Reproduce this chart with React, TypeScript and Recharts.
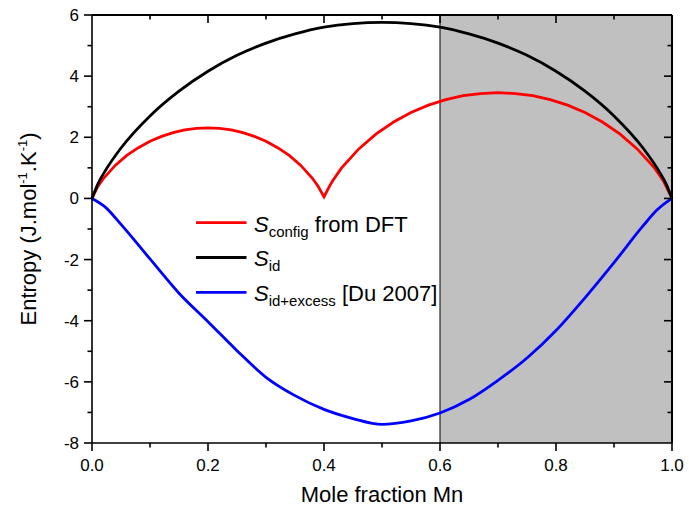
import { LineChart, Line, XAxis, YAxis, ReferenceArea, ReferenceLine } from 'recharts';

// mole fraction Mn (x) and entropy in J/mol/K
const idX = [0, 0.01, 0.025, 0.05, 0.1, 0.15, 0.2, 0.25, 0.3, 0.35, 0.4, 0.45, 0.5, 0.55, 0.6, 0.65, 0.7, 0.75, 0.8, 0.85, 0.9, 0.95, 0.975, 0.99, 1];
const idY = [0, 0.47, 0.97, 1.65, 2.7, 3.51, 4.16, 4.68, 5.08, 5.38, 5.6, 5.72, 5.76, 5.72, 5.6, 5.38, 5.08, 4.68, 4.16, 3.51, 2.7, 1.65, 0.97, 0.47, 0];

const configX = [0, 0.01, 0.02, 0.04, 0.06, 0.08, 0.1, 0.12, 0.14, 0.16, 0.18, 0.2, 0.22, 0.24, 0.26, 0.28, 0.3, 0.32, 0.34, 0.36, 0.38, 0.39, 0.4, 0.41, 0.415, 0.43, 0.46, 0.49, 0.52, 0.55, 0.58, 0.61, 0.64, 0.67, 0.7, 0.73, 0.76, 0.79, 0.82, 0.85, 0.88, 0.91, 0.94, 0.97, 0.985, 1];
const configY = [0, 0.39, 0.66, 1.08, 1.41, 1.66, 1.87, 2.03, 2.15, 2.24, 2.29, 2.31, 2.29, 2.24, 2.15, 2.03, 1.87, 1.66, 1.41, 1.08, 0.66, 0.39, 0.05, 0.42, 0.58, 0.99, 1.62, 2.11, 2.5, 2.81, 3.05, 3.23, 3.36, 3.43, 3.46, 3.43, 3.36, 3.23, 3.05, 2.81, 2.5, 2.11, 1.62, 0.99, 0.58, 0];

const excessX = [0, 0.022, 0.05, 0.1, 0.15, 0.2, 0.25, 0.3, 0.35, 0.4, 0.45, 0.5, 0.55, 0.6, 0.65, 0.7, 0.75, 0.8, 0.85, 0.9, 0.95, 0.974, 1];
const excessY = [0, -0.27, -0.85, -1.98, -3.1, -4.03, -4.98, -5.85, -6.45, -6.9, -7.2, -7.39, -7.28, -7.02, -6.58, -5.95, -5.22, -4.32, -3.25, -2.1, -0.9, -0.38, 0];

const xTicks = [0, 0.1, 0.2, 0.3, 0.4, 0.5, 0.6, 0.7, 0.8, 0.9, 1.0];
const yTicks = [-8, -7, -6, -5, -4, -3, -2, -1, 0, 1, 2, 3, 4, 5, 6];

const toRows = (xs: number[], ys: number[]) => xs.map((x, i) => ({ x, y: ys[i] }));
const idData = toRows(idX, idY);
const configData = toRows(configX, configY);
const excessData = toRows(excessX, excessY);

const FONT = '"Liberation Sans", Arial, sans-serif';
const MAJOR = 8;
const MINOR = 4.5;
// plot box in px (margins + axis sizes below)
const BOX = { left: 92, top: 15, right: 672, bottom: 443 };
const boxX = (v: number) => BOX.left + v * (BOX.right - BOX.left);
const boxY = (v: number) => BOX.top + ((6 - v) / 14) * (BOX.bottom - BOX.top);

const isMajorX = (v: number) => Math.round(v * 10) % 2 === 0;
const isMajorY = (v: number) => Math.round(v) % 2 === 0;

function BottomTick({ x, y, payload }: any) {
  const major = isMajorX(payload.value);
  return (
    <g>
      <line x1={x} y1={y} x2={x} y2={y + (major ? MAJOR : MINOR)} stroke="#000" strokeWidth={1.6} />
      {major && (
        <text x={x} y={y + 28} textAnchor="middle" fontSize={17} fontFamily={FONT} fill="#000">
          {payload.value.toFixed(1)}
        </text>
      )}
    </g>
  );
}

function LeftTick({ x, y, payload }: any) {
  const major = isMajorY(payload.value);
  return (
    <g>
      <line x1={x} y1={y} x2={x - (major ? MAJOR : MINOR)} y2={y} stroke="#000" strokeWidth={1.6} />
      {major && (
        <text x={x - 13} y={y + 6} textAnchor="end" fontSize={17} fontFamily={FONT} fill="#000">
          {payload.value}
        </text>
      )}
    </g>
  );
}

const axisLine = { stroke: '#000', strokeWidth: 1.6 };

export default function App() {
  return (
    <div style={{ position: 'absolute', left: 0, top: 0, width: 689, height: 514, background: '#fff' }}>
      <LineChart width={689} height={514} margin={{ top: 15, right: 17, left: 0, bottom: 0 }}>
        <XAxis dataKey="x" type="number" domain={[0, 1]} ticks={xTicks} interval={0} height={71}
          tickSize={0} tickMargin={0} tickLine={false} axisLine={axisLine} tick={<BottomTick />} />
        <YAxis type="number" domain={[-8, 6]} ticks={yTicks} interval={0} width={92}
          tickSize={0} tickMargin={0} tickLine={false} axisLine={axisLine} tick={<LeftTick />} />
        <ReferenceArea x1={0.6} x2={1} y1={-8} y2={6} fill="#c0c0c0" fillOpacity={1} stroke="none" />
        <ReferenceLine x={0.6} stroke="#000" strokeWidth={1} />
        <Line data={configData} dataKey="y" type="linear" stroke="#ff0000" strokeWidth={2.8} dot={false} isAnimationActive={false} />
        <Line data={idData} dataKey="y" type="monotone" stroke="#000000" strokeWidth={2.8} dot={false} isAnimationActive={false} />
        <Line data={excessData} dataKey="y" type="monotone" stroke="#0000ff" strokeWidth={2.8} dot={false} isAnimationActive={false} />
      </LineChart>
      <svg width={689} height={514} style={{ position: 'absolute', left: 0, top: 0, pointerEvents: 'none' }} fontFamily={FONT}>
        {/* top and right frame with inward ticks */}
        <line x1={BOX.left} y1={BOX.top} x2={BOX.right} y2={BOX.top} stroke="#000" strokeWidth={2} />
        <line x1={BOX.right} y1={BOX.top} x2={BOX.right} y2={BOX.bottom} stroke="#000" strokeWidth={2} />
        {xTicks.slice(1, -1).map((t) => (
          <line key={`tx${t}`} x1={boxX(t)} y1={BOX.top} x2={boxX(t)} y2={BOX.top + (isMajorX(t) ? MAJOR : MINOR)}
            stroke="#000" strokeWidth={1.6} />
        ))}
        {yTicks.slice(1, -1).map((t) => (
          <line key={`ty${t}`} x1={BOX.right} y1={boxY(t)} x2={BOX.right - (isMajorY(t) ? MAJOR : MINOR)} y2={boxY(t)}
            stroke="#000" strokeWidth={1.6} />
        ))}

        <text transform="translate(36, 229) rotate(-90)" textAnchor="middle" fontSize={22} fill="#000">
          Entropy (J.mol<tspan fontSize={13} dy={-9}>-1</tspan><tspan dy={9}>.K</tspan><tspan fontSize={13} dy={-9}>-1</tspan><tspan dy={9}>)</tspan>
        </text>
        <text x={382} y={502} textAnchor="middle" fontSize={22} fill="#000">Mole fraction Mn</text>

        <line x1={196} y1={222.7} x2={246.5} y2={222.7} stroke="#ff0000" strokeWidth={2.8} />
        <text x={254} y={231.5} fontSize={22} fill="#000">
          <tspan fontStyle="italic">S</tspan><tspan fontSize={15} dy={5}>config</tspan><tspan dy={-5}> from DFT</tspan>
        </text>
        <line x1={196} y1={257.5} x2={246.5} y2={257.5} stroke="#000000" strokeWidth={2.8} />
        <text x={254} y={266.3} fontSize={22} fill="#000">
          <tspan fontStyle="italic">S</tspan><tspan fontSize={15} dy={5}>id</tspan>
        </text>
        <line x1={196} y1={292.3} x2={246.5} y2={292.3} stroke="#0000ff" strokeWidth={2.8} />
        <text x={254} y={301.1} fontSize={22} fill="#000">
          <tspan fontStyle="italic">S</tspan><tspan fontSize={15} dy={5}>id+excess</tspan><tspan dy={-5}> [Du 2007]</tspan>
        </text>
      </svg>
    </div>
  );
}
